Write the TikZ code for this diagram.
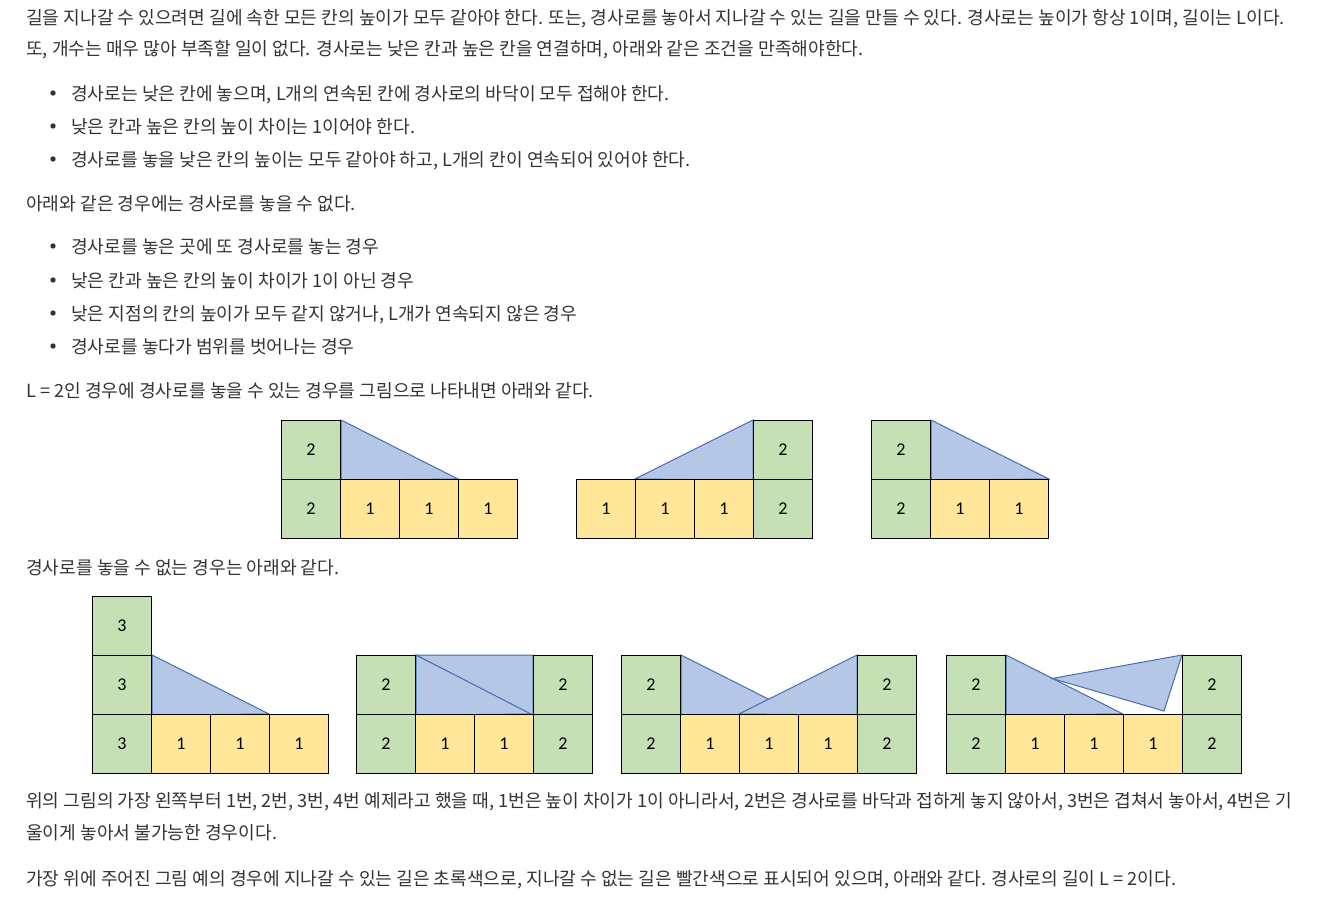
\documentclass[tikz,border=0pt]{standalone}
\usepackage{fontspec}
\setmainfont{Noto Sans CJK KR}
\newfontfamily\numfont{Carlito}
\definecolor{textgray}{HTML}{333333}
\definecolor{cgreen}{HTML}{C5E0B4}
\definecolor{cyellow}{HTML}{FFE699}
\definecolor{cblue}{HTML}{B4C7E7}
\definecolor{cbluedark}{HTML}{4A6BB0}
\pgfdeclarelayer{bg}
\pgfsetlayers{bg,main}
\tikzset{
  txt/.style={anchor=base west, inner sep=0pt, text=textgray, font=\fontsize{13.6}{16}\selectfont},
  cellbox/.style={draw=black, line width=0.8pt, minimum width=44.25pt, minimum height=44.25pt,
    inner sep=0pt, anchor=north west, text=black, font=\numfont\fontsize{13.5}{15}\selectfont},
  gcell/.style={cellbox, fill=cgreen},
  ycell/.style={cellbox, fill=cyellow},
  ramp/.style={fill=cblue, draw=cbluedark, line width=0.75pt, line join=miter},
  dot/.style={circle, fill=textgray, inner sep=0pt, minimum size=4pt}
}
\begin{document}
\begin{tikzpicture}[x=0.75pt,y=-0.75pt]
\useasboundingbox (0,0) rectangle (1342,903);

% ---------- text ----------
\node[txt] (l1) at (26,24) {길을 지나갈 수 있으려면 길에 속한 모든 칸의 높이가 모두 같아야 한다. 또는, 경사로를 놓아서 지나갈 수 있는 길을 만들 수 있다. 경사로는 높이가 항상 1이며, 길이는 L이다.};
\node[txt] (l2) at (26,55) {또, 개수는 매우 많아 부족할 일이 없다. 경사로는 낮은 칸과 높은 칸을 연결하며, 아래와 같은 조건을 만족해야한다.};

\node[dot] (d1) at (53,93) {};
\node[txt] (b1) at (71,100) {경사로는 낮은 칸에 놓으며, L개의 연속된 칸에 경사로의 바닥이 모두 접해야 한다.};
\node[dot] (d2) at (53,126) {};
\node[txt] (b2) at (71,133) {낮은 칸과 높은 칸의 높이 차이는 1이어야 한다.};
\node[dot] (d3) at (53,159) {};
\node[txt] (b3) at (71,166) {경사로를 놓을 낮은 칸의 높이는 모두 같아야 하고, L개의 칸이 연속되어 있어야 한다.};

\node[txt] (p2) at (26,210) {아래와 같은 경우에는 경사로를 놓을 수 없다.};

\node[dot] (d4) at (53,246) {};
\node[txt] (b4) at (71,253) {경사로를 놓은 곳에 또 경사로를 놓는 경우};
\node[dot] (d5) at (53,280) {};
\node[txt] (b5) at (71,287) {낮은 칸과 높은 칸의 높이 차이가 1이 아닌 경우};
\node[dot] (d6) at (53,313) {};
\node[txt] (b6) at (71,320) {낮은 지점의 칸의 높이가 모두 같지 않거나, L개가 연속되지 않은 경우};
\node[dot] (d7) at (53,346) {};
\node[txt] (b7) at (71,353) {경사로를 놓다가 범위를 벗어나는 경우};

\node[txt] (p3) at (26,397) {L = 2인 경우에 경사로를 놓을 수 있는 경우를 그림으로 나타내면 아래와 같다.};
\node[txt] (p4) at (26,574) {경사로를 놓을 수 없는 경우는 아래와 같다.};
\node[txt] (p5) at (26,807) {위의 그림의 가장 왼쪽부터 1번, 2번, 3번, 4번 예제라고 했을 때, 1번은 높이 차이가 1이 아니라서, 2번은 경사로를 바닥과 접하게 놓지 않아서, 3번은 겹쳐서 놓아서, 4번은 기};
\node[txt] (p6) at (26,839) {울이게 놓아서 불가능한 경우이다.};
\node[txt] (p7) at (26,885) {가장 위에 주어진 그림 예의 경우에 지나갈 수 있는 길은 초록색으로, 지나갈 수 없는 길은 빨간색으로 표시되어 있으며, 아래와 같다. 경사로의 길이 L = 2이다.};

% ---------- top figure 1 ----------
\node[gcell] (T21) at (281,420) {2};
\node[gcell] (T11) at (281,479) {2};
\node[ycell] (T12) at (340,479) {1};
\node[ycell] (T13) at (399,479) {1};
\node[ycell] (T14) at (458,479) {1};
% ---------- top figure 2 ----------
\node[ycell] (U11) at (576,479) {1};
\node[ycell] (U12) at (635,479) {1};
\node[ycell] (U13) at (694,479) {1};
\node[gcell] (U14) at (753,479) {2};
\node[gcell] (U24) at (753,420) {2};
% ---------- top figure 3 ----------
\node[gcell] (V21) at (871,420) {2};
\node[gcell] (V11) at (871,479) {2};
\node[ycell] (V12) at (930,479) {1};
\node[ycell] (V13) at (989,479) {1};

% ---------- bottom figure A ----------
\node[gcell] (A31) at (92,596) {3};
\node[gcell] (A21) at (92,655) {3};
\node[gcell] (A11) at (92,714) {3};
\node[ycell] (A12) at (151,714) {1};
\node[ycell] (A13) at (210,714) {1};
\node[ycell] (A14) at (269,714) {1};
% ---------- bottom figure B ----------
\node[gcell] (B21) at (356,655) {2};
\node[gcell] (B24) at (533,655) {2};
\node[gcell] (B11) at (356,714) {2};
\node[ycell] (B12) at (415,714) {1};
\node[ycell] (B13) at (474,714) {1};
\node[gcell] (B14) at (533,714) {2};
% ---------- bottom figure C ----------
\node[gcell] (C21) at (621,655) {2};
\node[gcell] (C25) at (857,655) {2};
\node[gcell] (C11) at (621,714) {2};
\node[ycell] (C12) at (680,714) {1};
\node[ycell] (C13) at (739,714) {1};
\node[ycell] (C14) at (798,714) {1};
\node[gcell] (C15) at (857,714) {2};
% ---------- bottom figure D ----------
\node[gcell] (D21) at (946,655) {2};
\node[gcell] (D25) at (1182,655) {2};
\node[gcell] (D11) at (946,714) {2};
\node[ycell] (D12) at (1005,714) {1};
\node[ycell] (D13) at (1064,714) {1};
\node[ycell] (D14) at (1123,714) {1};
\node[gcell] (D15) at (1182,714) {2};

\coordinate (Dtip) at (1052,678.5);
\coordinate (Dlow) at (1164,711);

% ---------- ramps ----------
\begin{pgfonlayer}{bg}
\draw[ramp] (T21.north east) -- (T21.south east) -- (T14.north west) -- cycle;
\draw[ramp] (U12.north west) -- (U24.south west) -- (U24.north west) -- cycle;
\draw[ramp] (V21.north east) -- (V21.south east) -- (V13.north east) -- cycle;
\draw[ramp] (A21.north east) -- (A21.south east) -- (A14.north west) -- cycle;
\draw[ramp] (B21.north east) -- (B21.south east) -- (B14.north west) -- cycle;
\draw[ramp] (B21.north east) -- (B24.north west) -- (B24.south west) -- cycle;
\draw[ramp] (C21.north east) -- (C21.south east) -- (C14.north west) -- cycle;
\draw[ramp] (C13.north west) -- (C25.south west) -- (C25.north west) -- cycle;
\draw[ramp] (D21.north east) -- (D21.south east) -- (D14.north west) -- cycle;
\draw[ramp] (Dtip) -- (D25.north west) -- (Dlow) -- cycle;
\end{pgfonlayer}
\end{tikzpicture}
\end{document}
